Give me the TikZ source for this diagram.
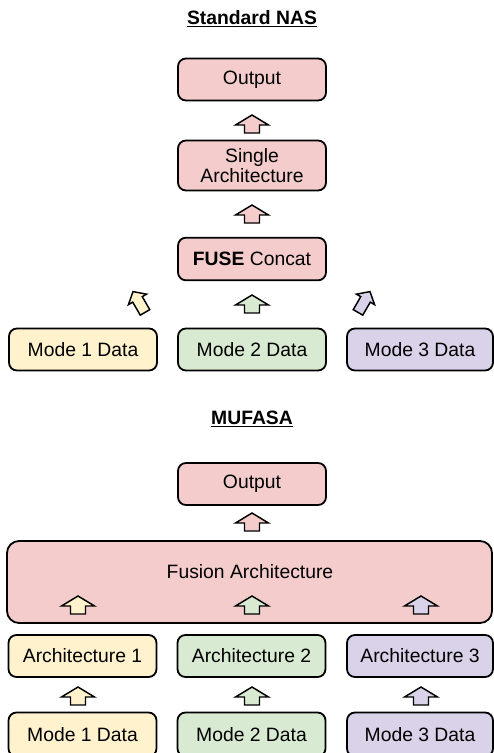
\documentclass[tikz,border=0pt]{standalone}
\usepackage{fontspec}
\setmainfont{Liberation Sans}
\usetikzlibrary{calc}
\definecolor{pinkfill}{HTML}{F4CCCC}
\definecolor{yellowfill}{HTML}{FFF2CC}
\definecolor{greenfill}{HTML}{D9EAD3}
\definecolor{purplefill}{HTML}{D9D2E9}
\tikzset{
  box/.style={draw=black, line width=1.35pt, rounded corners=6pt,
    inner sep=0pt, align=center, font=\fontsize{14.5}{15.5}\selectfont},
  title/.style={font=\fontsize{14.5}{15}\selectfont\bfseries, inner sep=0pt},
  arrowline/.style={draw=black, line width=1.1pt, line join=miter},
  % straight block arrow pointing up
  pics/uparr/.style={code={
    \draw[arrowline, fill=#1] (0,-9) -- (16.5,1) -- (7.5,1) -- (7.5,9)
      -- (-7.5,9) -- (-7.5,1) -- (-16.5,1) -- cycle;}},
  % block arrow leaning up and to the left (about 30 degrees)
  pics/leftarr/.style={code={
    \draw[arrowline, fill=#1] (-6.0,-10.39) -- (7.59,-7.85) -- (3.26,-5.35)
      -- (10.76,7.64) -- (1.24,13.14) -- (-6.26,0.15) -- (-10.59,2.65) -- cycle;}},
  % its mirror image, leaning up and to the right
  pics/rightarr/.style={code={
    \draw[arrowline, fill=#1] (6.0,-10.39) -- (-7.59,-7.85) -- (-3.26,-5.35)
      -- (-10.76,7.64) -- (-1.24,13.14) -- (6.26,0.15) -- (10.59,2.65) -- cycle;}}
}
\begin{document}
\begin{tikzpicture}[x=0.75pt, y=-0.75pt]
\useasboundingbox (0,0) rectangle (493,753);

% ---------------- Standard NAS ----------------
\node[title] (t1) at (252,19) {\underline{Standard NAS}};

\node[box, fill=pinkfill, minimum width=111pt, minimum height=31.5pt] (out1) at (252,79.5) {Output};
\node[box, fill=pinkfill, minimum width=111pt, minimum height=37.5pt] (single) at (252,165.5) {Single\\Architecture};
\node[box, fill=pinkfill, minimum width=111pt, minimum height=32pt] (fuse) at (252,259) {\textbf{FUSE} Concat};

\node[box, fill=yellowfill, minimum width=111pt, minimum height=31.5pt] (m1a) at (83,349.5) {Mode 1 Data};
\node[box, fill=greenfill, minimum width=111pt, minimum height=31.5pt] (m2a) at (252,349.5) {Mode 2 Data};
\node[box, fill=purplefill, minimum width=109.5pt, minimum height=31.5pt] (m3a) at (420,349.5) {Mode 3 Data};

\pic at (252,124) {uparr=pinkfill};
\pic at (252,214) {uparr=pinkfill};
\pic at (139,302) {leftarr=yellowfill};
\pic at (252,304) {uparr=greenfill};
\pic at (364,302) {rightarr=purplefill};

% ---------------- MUFASA ----------------
\node[title] (t2) at (252,419) {\underline{MUFASA}};

\node[box, fill=pinkfill, minimum width=111pt, minimum height=31.5pt] (out2) at (252,484) {Output};
\node[box, fill=pinkfill, rounded corners=9pt, minimum width=363.75pt, minimum height=61.5pt] (fusion) at (249.5,582) {};
\node[font=\fontsize{14.5}{15}\selectfont, inner sep=0pt] (fusionlabel) at (250,572) {Fusion Architecture};

\node[box, fill=yellowfill, minimum width=111pt, minimum height=31.5pt] (a1) at (82.5,656) {Architecture 1};
\node[box, fill=greenfill, minimum width=111pt, minimum height=31.5pt] (a2) at (251.5,656) {Architecture 2};
\node[box, fill=purplefill, minimum width=109.5pt, minimum height=31.5pt] (a3) at (420,656) {Architecture 3};

% the bottom row runs past the lower edge of the page
\node[box, fill=yellowfill, minimum width=111pt, minimum height=33pt] (m1b) at (82.5,734.5) {Mode 1 Data};
\node[box, fill=greenfill, minimum width=111pt, minimum height=33pt] (m2b) at (251.5,734.5) {Mode 2 Data};
\node[box, fill=purplefill, minimum width=109.5pt, minimum height=33pt] (m3b) at (420,734.5) {Mode 3 Data};

\pic at (252,522) {uparr=pinkfill};
\pic at (78,605) {uparr=yellowfill};
\pic at (252,605) {uparr=greenfill};
\pic at (421,605) {uparr=purplefill};
\pic at (78,696) {uparr=yellowfill};
\pic at (252,696) {uparr=greenfill};
\pic at (421,696) {uparr=purplefill};
\end{tikzpicture}
\end{document}
